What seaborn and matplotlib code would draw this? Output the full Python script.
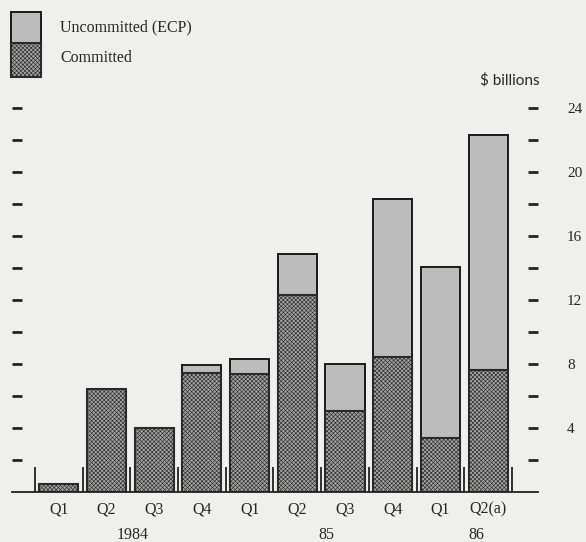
import matplotlib
matplotlib.use("Agg")
import matplotlib.pyplot as plt
import seaborn as sns
import pandas as pd
from matplotlib.patches import Rectangle
from matplotlib.ticker import FuncFormatter

# dados ($ billions)
quarters = ["Q1", "Q2", "Q3", "Q4", "Q1", "Q2", "Q3", "Q4", "Q1", "Q2(a)"]
periods = ["84Q1", "84Q2", "84Q3", "84Q4", "85Q1", "85Q2", "85Q3", "85Q4", "86Q1", "86Q2"]
committed = [0.5, 6.45, 4.0, 7.45, 7.35, 12.3, 5.05, 8.45, 3.35, 7.6]
uncommitted = [0.0, 0.0, 0.0, 0.5, 0.95, 2.6, 2.95, 9.85, 10.75, 14.75]
years = ["1984", "85", "86"]
year_pos = [1.55, 5.6, 8.75]

df = pd.DataFrame({"period": periods, "committed": committed, "uncommitted": uncommitted})
df["total"] = df["committed"] + df["uncommitted"]

sns.set_style("white")
plt.rcParams["font.family"] = ["Liberation Serif", "DejaVu Serif"]
plt.rcParams["hatch.linewidth"] = 0.45

W, H = 586, 542
bg = "#efefec"
fig = plt.figure(figsize=(W / 100, H / 100), dpi=100, facecolor=bg)
ax = fig.add_axes([11.7 / W, (H - 491.7) / H, (538 - 11.7) / W, (491.7 - 76.5) / H])
ax.set_facecolor(bg)

sns.barplot(data=df, x="period", y="total", order=periods, color="#bcbcbc",
            width=0.82, edgecolor="#1a1a1a", linewidth=1.4, saturation=1, ax=ax)
sns.barplot(data=df, x="period", y="committed", order=periods, color="#a4a4a4",
            width=0.82, edgecolor="#2a2a2a", linewidth=1.5, saturation=1,
            hatch="xxxxxxxx", ax=ax)

# separadores verticais na base
ax.vlines([i - 0.5 for i in range(len(periods) + 1)], 0, 1.57, color="#222222", lw=1.3)

ax.set_xlim(-0.988, 10.045)
ax.set_ylim(0, 26)
ax.set_xlabel("")
ax.set_ylabel("")

ax.set_xticks(range(len(periods)))
ax.set_xticklabels(quarters, fontsize=11.5)
ax.tick_params(axis="x", length=0, pad=7)

ax.set_yticks(range(2, 25, 2))
ax.yaxis.set_major_formatter(FuncFormatter(lambda v, p: f"{int(v)}" if v % 4 == 0 else ""))
ax.tick_params(axis="y", left=True, right=True, labelleft=False, labelright=True,
               direction="in", length=7.5, width=2, color="#222222", pad=21, labelsize=11)
for lab in ax.get_yticklabels():
    lab.set_horizontalalignment("left")

for s in ["left", "right", "top"]:
    ax.spines[s].set_visible(False)
ax.spines["bottom"].set_color("#222222")
ax.spines["bottom"].set_linewidth(1.3)

for y, p in zip(years, year_pos):
    ax.text(p, -0.085, y, transform=ax.get_xaxis_transform(), ha="center", va="top", fontsize=11.5)

fig.text(510 / W, 1 - 80 / H, "$ billions", ha="center", va="center", fontsize=11,
         family=["Lato", "DejaVu Sans"])

# legenda desenhada a mao
leg_top = Rectangle((11 / W, 1 - 43.3 / H), 30 / W, 31.6 / H, transform=fig.transFigure,
                    facecolor="#bcbcbc", edgecolor="#1a1a1a", lw=1.4)
leg_bot = Rectangle((11 / W, 1 - 76.7 / H), 30 / W, 33.4 / H, transform=fig.transFigure,
                    facecolor="#a4a4a4", edgecolor="#2a2a2a", lw=1.5, hatch="xxxxxxxx")
fig.patches.extend([leg_top, leg_bot])
fig.text(60 / W, 1 - 27 / H, "Uncommitted (ECP)", ha="left", va="center", fontsize=11.5)
fig.text(60 / W, 1 - 58 / H, "Committed", ha="left", va="center", fontsize=11.5)

plt.savefig("out.png", dpi=100, facecolor=bg)
plt.close()
